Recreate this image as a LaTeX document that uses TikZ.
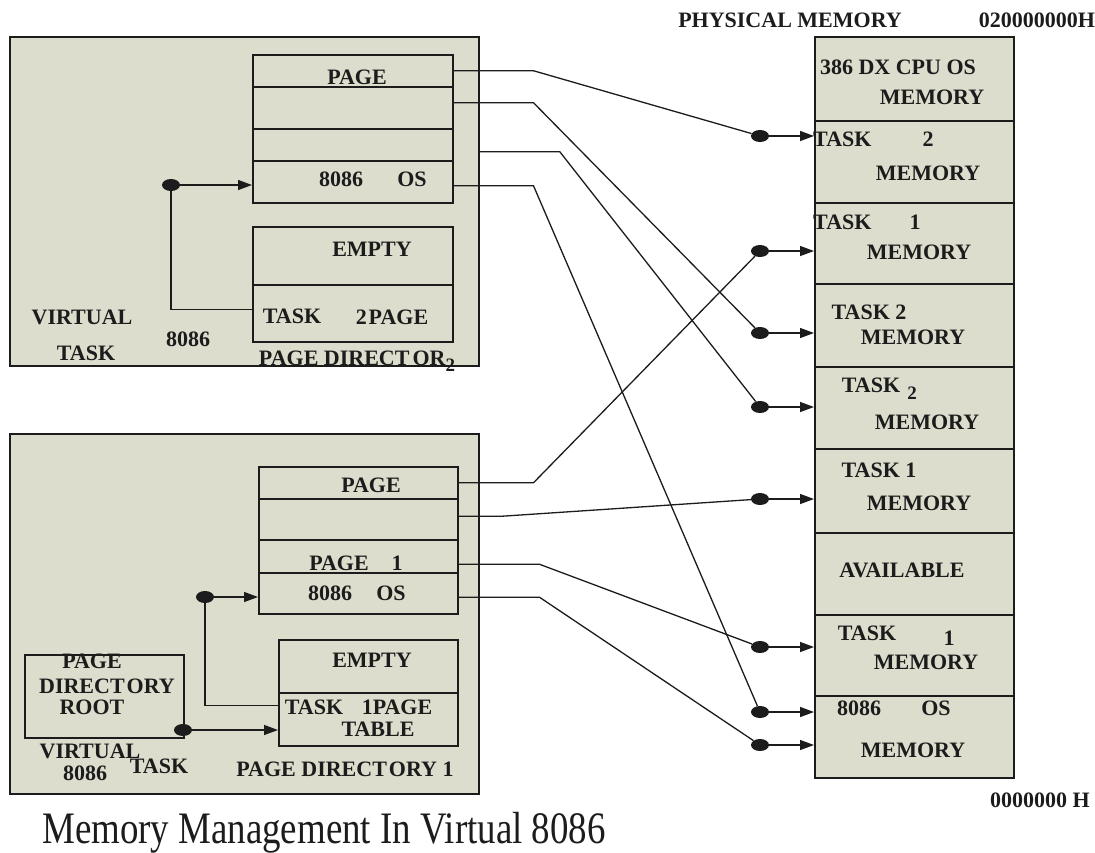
\documentclass[tikz,border=0pt]{standalone}
\usepackage{fontspec}
\setmainfont{Liberation Serif}
\usetikzlibrary{shapes.geometric,arrows.meta}
\definecolor{panelfill}{RGB}{221,221,205}
\definecolor{ink}{RGB}{28,28,28}
\newcommand{\lblsize}{\fontsize{22}{24}\selectfont\bfseries}
\newcommand{\lowtwo}{\raisebox{-6pt}{\fontsize{19}{19}\selectfont 2}}
\begin{document}
\begin{tikzpicture}[x=1pt,y=-1pt,
  panel/.style={draw=ink,line width=1.8pt,fill=panelfill,inner sep=0pt,anchor=north west},
  cellbox/.style={draw=ink,line width=1.5pt,fill=panelfill,inner sep=0pt,anchor=north west},
  lbl/.style={font=\lblsize,text=ink,inner sep=0pt},
  conn/.style={draw=ink,line width=1.3pt},
  arr/.style={conn,-{Triangle[length=14pt,width=10pt]}},
  dot/.style={ellipse,fill=ink,minimum width=18pt,minimum height=12pt,inner sep=0pt}]

\useasboundingbox[fill=white] (0,0) rectangle (1095,852);

% ---------- upper virtual 8086 task ----------
\node[panel,minimum width=469pt,minimum height=329pt] (vt2) at (9,36) {};
\node[cellbox,minimum width=200pt,minimum height=32pt] (p2r1) at (252,54) {};
\node[cellbox,minimum width=200pt,minimum height=42pt] (p2r2) at (252,86) {};
\node[cellbox,minimum width=200pt,minimum height=32pt] (p2r3) at (252,128) {};
\node[cellbox,minimum width=200pt,minimum height=42pt] (p2r4) at (252,160) {};
\node[cellbox,minimum width=200pt,minimum height=58pt] (p2e) at (252,226) {};
\node[cellbox,minimum width=200pt,minimum height=57pt] (p2t) at (252,284) {};

\node[lbl] (t2page) at (357,77) {PAGE};
\node[lbl] (t2os1) at (341,179) {8086};
\node[lbl] (t2os2) at (412,179) {OS};
\node[lbl] (t2empty) at (372,249) {EMPTY};
\node[lbl] (t2task) at (292,316) {TASK};
\node[lbl] (t2tpage) at (392,317) {2\kern2pt PAGE};
\node[lbl] (t2v1) at (82,317) {VIRTUAL};
\node[lbl] (t2v2) at (86,353) {TASK};
\node[lbl] (t2v3) at (188,339) {8086};
\node[lbl,anchor=base] (t2dir) at (357,365) {PAGE DIRECT\kern3pt OR\lowtwo};

% ---------- lower virtual 8086 task ----------
\node[panel,minimum width=469pt,minimum height=360pt] (vt1) at (9,433) {};
\node[cellbox,minimum width=199pt,minimum height=32pt] (p1r1) at (258,466) {};
\node[cellbox,minimum width=199pt,minimum height=41pt] (p1r2) at (258,498) {};
\node[cellbox,minimum width=199pt,minimum height=33pt] (p1r3) at (258,539) {};
\node[cellbox,minimum width=199pt,minimum height=41pt] (p1r4) at (258,572) {};
\node[cellbox,minimum width=179pt,minimum height=53pt] (p1e) at (278,639) {};
\node[cellbox,minimum width=179pt,minimum height=53pt] (p1t) at (278,692) {};
\node[cellbox,minimum width=159pt,minimum height=83pt] (root) at (24,654) {};

\node[lbl] (t1page) at (371,485) {PAGE};
\node[lbl] (t1pg1a) at (339,563) {PAGE};
\node[lbl] (t1pg1b) at (397,563) {1};
\node[lbl] (t1os1) at (330,593) {8086};
\node[lbl] (t1os2) at (391,593) {OS};
\node[lbl] (t1empty) at (372,660) {EMPTY};
\node[lbl] (t1task) at (314,707) {TASK};
\node[lbl] (t1tpage) at (397,707) {1PAGE};
\node[lbl] (t1table) at (378,729) {TABLE};
\node[lbl] (tr1) at (92,661) {PAGE};
\node[lbl] (tr2) at (107,686) {DIRECT\kern2pt ORY};
\node[lbl] (tr3) at (92,707) {ROOT};
\node[lbl] (t1v1) at (90,751) {VIRTUAL};
\node[lbl] (t1v2) at (85,773) {8086};
\node[lbl] (t1v3) at (159,766) {TASK};
\node[lbl] (t1dir) at (345,769) {PAGE DIRECT\kern2pt ORY 1};

% ---------- physical memory ----------
\node[cellbox,minimum width=199pt,minimum height=84pt] (mem1) at (814,36) {};
\node[cellbox,minimum width=199pt,minimum height=82pt] (mem2) at (814,120) {};
\node[cellbox,minimum width=199pt,minimum height=81pt] (mem3) at (814,202) {};
\node[cellbox,minimum width=199pt,minimum height=83pt] (mem4) at (814,283) {};
\node[cellbox,minimum width=199pt,minimum height=82pt] (mem5) at (814,366) {};
\node[cellbox,minimum width=199pt,minimum height=84pt] (mem6) at (814,448) {};
\node[cellbox,minimum width=199pt,minimum height=82pt] (mem7) at (814,532) {};
\node[cellbox,minimum width=199pt,minimum height=81pt] (mem8) at (814,614) {};
\node[cellbox,minimum width=199pt,minimum height=82pt] (mem9) at (814,695) {};

\node[lbl] (phys) at (790,20) {PHYSICAL MEMORY};
\node[lbl] (top) at (1037,20) {020000000H};
\node[lbl] (bottom) at (1040,800) {0000000 H};

\node[lbl] (m1a) at (898,67) {386 DX CPU OS};
\node[lbl] (m1b) at (932,97) {MEMORY};
\node[lbl,anchor=west] (m2a) at (813,139) {TASK};
\node[lbl] (m2b) at (928,139) {2};
\node[lbl] (m2c) at (928,173) {MEMORY};
\node[lbl,anchor=west] (m3a) at (813,222) {TASK};
\node[lbl] (m3b) at (915,222) {1};
\node[lbl] (m3c) at (919,252) {MEMORY};
\node[lbl] (m4a) at (869,312) {TASK 2};
\node[lbl] (m4b) at (913,337) {MEMORY};
\node[lbl] (m5a) at (871,385) {TASK};
\node[lbl] (m5s) at (912,393) {\fontsize{19}{19}\selectfont 2};
\node[lbl] (m5b) at (927,422) {MEMORY};
\node[lbl] (m6a) at (879,470) {TASK 1};
\node[lbl] (m6b) at (919,503) {MEMORY};
\node[lbl] (m7a) at (902,570) {AVAILABLE};
\node[lbl] (m8a) at (867,633) {TASK};
\node[lbl] (m8b) at (949,638) {1};
\node[lbl] (m8c) at (926,662) {MEMORY};
\node[lbl] (m9a) at (859,708) {8086};
\node[lbl] (m9b) at (936,708) {OS};
\node[lbl] (m9c) at (913,750) {MEMORY};

% ---------- junction dots ----------
\node[dot] (dA) at (171,185) {};
\node[dot] (dB) at (205,597) {};
\node[dot] (dC) at (183,730) {};
\node[dot] (d2) at (760,136) {};
\node[dot] (d3) at (760,251) {};
\node[dot] (d4) at (760,333) {};
\node[dot] (d5) at (760,407) {};
\node[dot] (d6) at (760,499) {};
\node[dot] (d8) at (760,647) {};
\node[dot] (d9a) at (760,712) {};
\node[dot] (d9b) at (760,745) {};

% ---------- links inside the task panels ----------
\draw[arr] (dA) -- (dA -| p2r4.west);
\draw[conn] (p2t.west) ++(0,-4) -| (dA);
\draw[arr] (dB) -- (dB -| p1r4.west);
\draw[conn] (p1t.west) ++(0,-14) -| (dB);
\draw[arr] (dC) -- (dC -| p1t.west);

% ---------- page mappings into physical memory ----------
\draw[conn] (p2r1.east) -- ++(80,0) -- (d2);
\draw[conn] (p2r2.east) ++(0,-5) -- ++(80,0) -- (d4);
\draw[conn] (p2r3.east -| vt2.east) ++(0,7) -- ++(80,0) -- (d5);
\draw[conn] (p2r4.east) ++(0,4) -- ++(80,0) -- (d9a);
\draw[conn] (p1r1.east) -- ++(75,0) -- (d3);
\draw[conn] (p1r2.east) ++(0,-3) -- ++(43,0) -- (d6);
\draw[conn] (p1r3.east) ++(0,8) -- ++(81,0) -- (d8);
\draw[conn] (p1r4.east) ++(0,4) -- ++(81,0) -- (d9b);

\draw[arr] (d2) -- (d2 -| mem2.west);
\draw[arr] (d3) -- (d3 -| mem3.west);
\draw[arr] (d4) -- (d4 -| mem4.west);
\draw[arr] (d5) -- (d5 -| mem5.west);
\draw[arr] (d6) -- (d6 -| mem6.west);
\draw[arr] (d8) -- (d8 -| mem8.west);
\draw[arr] (d9a) -- (d9a -| mem9.west);
\draw[arr] (d9b) -- (d9b -| mem9.west);

% ---------- caption ----------
\node[anchor=base west,inner sep=0pt,text=ink] (caption) at (42,843)
  {\scalebox{0.82}[1]{\fontsize{45}{50}\selectfont Memory Management In Virtual 8086}};
\end{tikzpicture}
\end{document}
